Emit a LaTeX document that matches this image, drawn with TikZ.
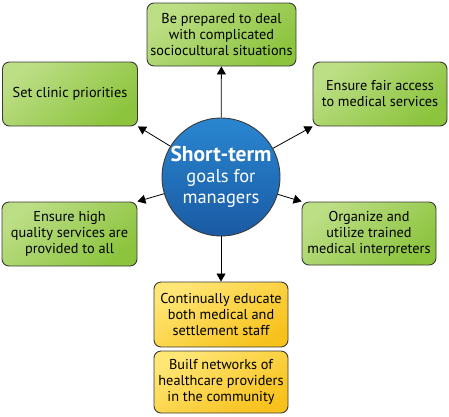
\documentclass[tikz,border=0pt]{standalone}
\usepackage{fontspec}
\setmainfont{PT Sans}
\usetikzlibrary{arrows.meta}
\definecolor{gA}{HTML}{BCDE85}
\definecolor{gB}{HTML}{8CC43E}
\definecolor{yA}{HTML}{FFE675}
\definecolor{yB}{HTML}{F7C21C}
\definecolor{bA}{HTML}{2A86D0}
\definecolor{bB}{HTML}{1A5AA4}
\definecolor{edge}{HTML}{3A3A3A}
\tikzset{
  goal/.style={draw=edge, line width=0.9pt, rounded corners=7pt, align=center,
    font=\fontsize{14.3}{16}\selectfont, inner sep=0pt,
    top color=gA, bottom color=gB, shading angle=40},
  ygoal/.style={goal, top color=yA, bottom color=yB, shading angle=30},
  hub/.style={circle, draw=edge, line width=0.9pt, minimum size=115pt, inner sep=0pt,
    top color=bA, bottom color=bB, text=white, align=center,
    font=\fontsize{18.5}{21}\selectfont},
  conn/.style={-{Triangle[length=8pt,width=9pt]}, line width=0.8pt, black}
}
\begin{document}
\begin{tikzpicture}[x=1pt,y=-1pt]
\useasboundingbox (0,0) rectangle (449,416);
\node[hub] (c) at (221,177) {{\fontsize{21.5}{21}\selectfont\bfseries Short-term}\\goals for\\managers};
\node[goal, minimum width=149pt, minimum height=63pt] (t) at (221.5,34.5) {Be prepared to deal\\with complicated\\sociocultural situations};
\node[goal, minimum width=135pt, minimum height=64pt] (nw) at (70,94) {Set clinic priorities};
\node[goal, minimum width=134pt, minimum height=64pt] (ne) at (380,94) {Ensure fair access\\to medical services};
\node[goal, minimum width=135pt, minimum height=64pt] (sw) at (69.5,234) {Ensure high\\quality services are\\provided to all};
\node[goal, minimum width=134pt, minimum height=63pt] (se) at (369,233.5) {Organize and\\utilize trained\\medical interpreters};
\node[ygoal, minimum width=134pt, minimum height=65pt] (y1) at (221,314.5) {Continually educate\\both medical and\\settlement staff};
\node[ygoal, minimum width=134pt, minimum height=62pt] (y2) at (221,382) {Builf networks of\\healthcare providers\\in the community};
\draw[conn] (c) -- (t);
\draw[conn] (c) -- (nw.south east);
\draw[conn] (c) -- (ne.south west);
\draw[conn] (c) -- (sw.north east);
\draw[conn] (c) -- (se.north west);
\draw[conn] (c) -- (y1);
\end{tikzpicture}
\end{document}
